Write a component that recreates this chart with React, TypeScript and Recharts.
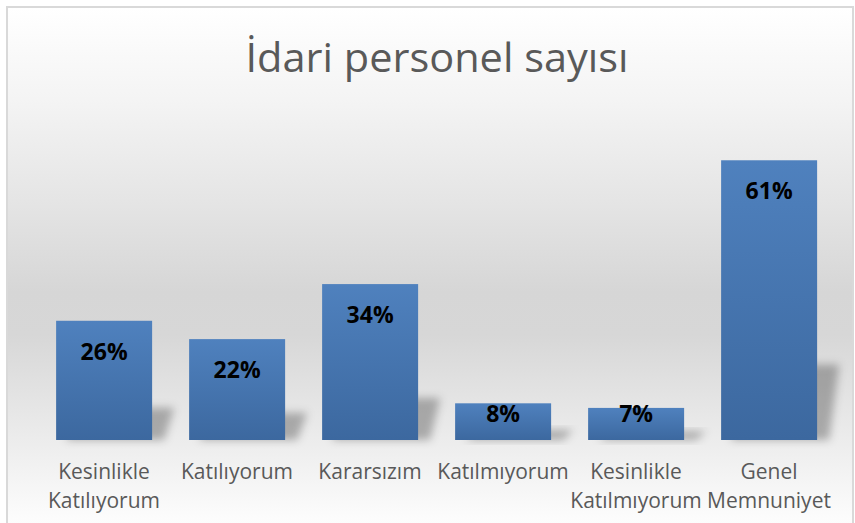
import React from 'react';
import { BarChart, Bar, XAxis, YAxis, LabelList } from 'recharts';

const categories = [
  'Kesinlikle Katılıyorum',
  'Katılıyorum',
  'Kararsızım',
  'Katılmıyorum',
  'Kesinlikle Katılmıyorum',
  'Genel Memnuniyet',
];
const percents = [26, 22, 34, 8, 7, 61];

const title = 'İdari personel sayısı';

const chartData = categories.map((name, i) => ({ name, value: percents[i] }));

const FONT = '"Open Sans", "Noto Sans", sans-serif';

// two-line category labels, split on the space like the wrapped axis text
const CategoryTick = (props: any) => {
  const { x, y, payload } = props;
  const lines = String(payload.value).split(' ');
  return (
    <text x={x} y={y} textAnchor="middle" fill="#595959" fontSize={21} fontFamily={FONT}>
      {lines.map((line, i) => (
        <tspan key={i} x={x} dy={i === 0 ? 39 : 29}>
          {line}
        </tspan>
      ))}
    </text>
  );
};

// bar with a soft perspective shadow falling to the right
const ShadowBar = (props: any) => {
  const { x, y, width, height } = props;
  if (!height || height <= 0) return null;
  const base = y + height;
  const sh = height * 0.27;
  const pts = [
    [x + 10, base],
    [x + width + 12, base],
    [x + width + 22, base - sh],
    [x + 22, base - sh],
  ]
    .map((p) => p.join(','))
    .join(' ');
  return (
    <g>
      <polygon points={pts} fill="#000" fillOpacity={0.28} filter="url(#barShadowBlur)" />
      <rect x={x} y={y} width={width} height={height} fill="url(#barFill)" />
    </g>
  );
};

const renderValue = (props: any) => {
  const { x, y, width, height, value } = props;
  const cy = Math.min(y + 30, y + height - 27);
  return (
    <text
      x={x + width / 2}
      y={cy}
      textAnchor="middle"
      dominantBaseline="central"
      fill="#000"
      fontSize={23}
      fontWeight={700}
      fontFamily={FONT}
    >
      {value}%
    </text>
  );
};

export default function App() {
  return (
    <div style={{ position: 'absolute', left: 0, top: 0, width: 855, height: 523, overflow: 'hidden', background: '#fff' }}>
      <svg width={0} height={0} style={{ position: 'absolute' }}>
        <defs>
          <linearGradient id="barFill" x1="0" y1="0" x2="0" y2="1">
            <stop offset="0%" stopColor="#4f81be" />
            <stop offset="100%" stopColor="#3c689f" />
          </linearGradient>
          <filter id="barShadowBlur" x="-50%" y="-50%" width="200%" height="200%">
            <feGaussianBlur stdDeviation="4.5" />
          </filter>
        </defs>
      </svg>

      {/* chart frame with vertical gray gradient */}
      <div
        style={{
          position: 'absolute',
          left: 6,
          top: 6,
          width: 848,
          height: 540,
          boxSizing: 'border-box',
          border: '2px solid #d9d9d9',
          background:
            'linear-gradient(to bottom, #ffffff 0%, #f4f4f4 17%, #e4e4e4 37%, #d6d6d6 53%, #d7d7d7 61%, #e4e4e4 73%, #f2f2f2 86%, #fcfcfc 95%, #ffffff 100%)',
        }}
      />

      <svg width={855} height={100} style={{ position: 'absolute', left: 0, top: 0 }}>
        <text
          x={437}
          y={72}
          textAnchor="middle"
          fill="#595959"
          fontSize={40}
          fontWeight={400}
          fontFamily={FONT}
          textLength={383}
          lengthAdjust="spacingAndGlyphs"
        >
          {title}
        </text>
      </svg>

      <div style={{ position: 'absolute', left: 0, top: 0 }}>
        <BarChart
          width={855}
          height={523}
          data={chartData}
          margin={{ top: 119, right: 19.5, bottom: 23, left: 37.5 }}
          barCategoryGap="14%"
        >
          <XAxis
            dataKey="name"
            axisLine={false}
            tickLine={false}
            tickSize={0}
            tickMargin={0}
            height={60}
            interval={0}
            tick={<CategoryTick />}
          />
          <YAxis hide domain={[0, 70]} />
          <Bar dataKey="value" shape={<ShadowBar />} isAnimationActive={false}>
            <LabelList dataKey="value" content={renderValue} />
          </Bar>
        </BarChart>
      </div>
    </div>
  );
}
